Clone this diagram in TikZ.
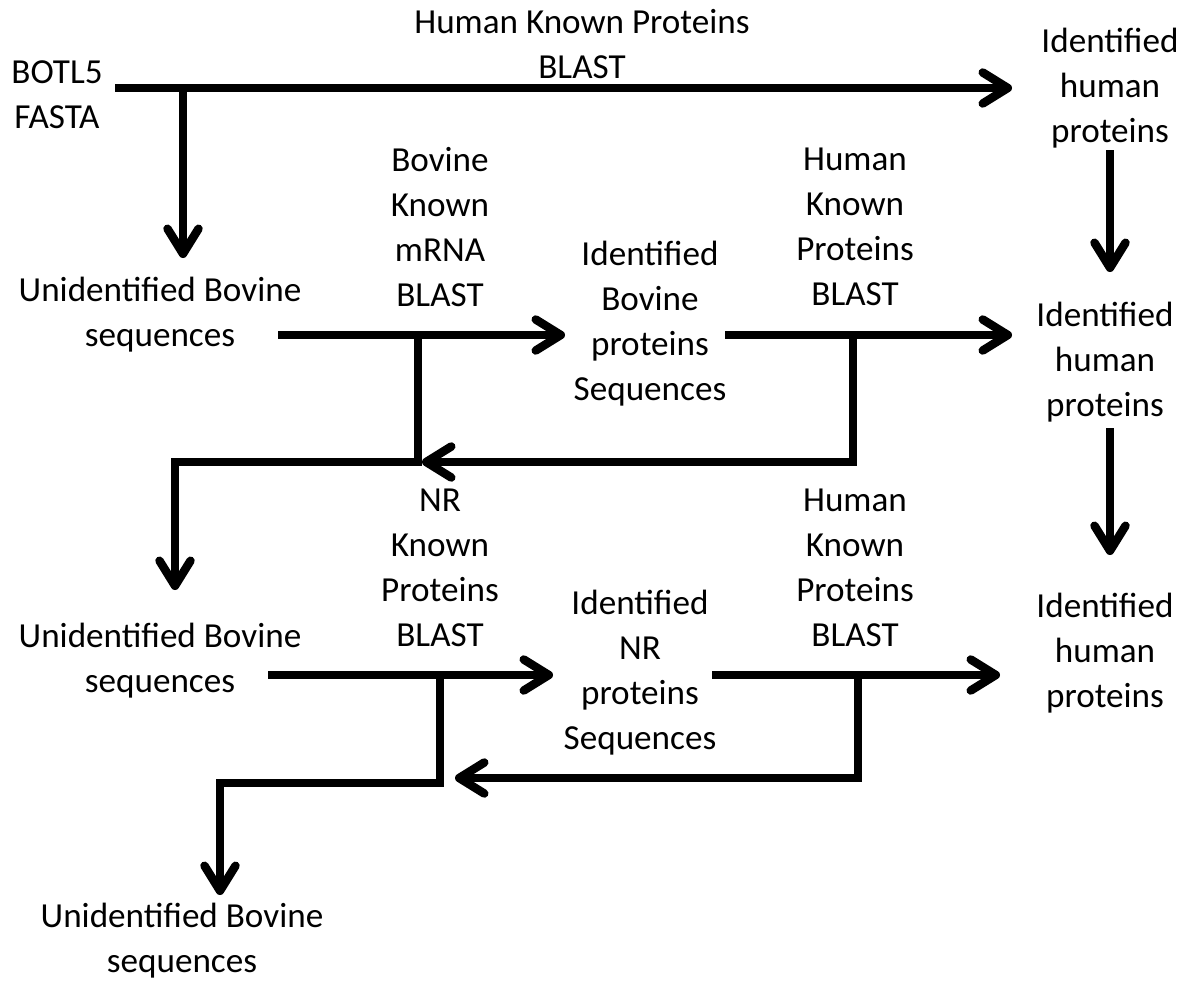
\documentclass[tikz,border=0pt]{standalone}
\usepackage{fontspec}
\setmainfont{Carlito}
\usetikzlibrary{arrows.meta}
\begin{document}
\begin{tikzpicture}[x=0.02cm,y=-0.02cm,
  lbl/.style={align=center,inner sep=0pt,font=\fontsize{20}{25.6}\selectfont},
  conn/.style={line width=0.17cm,line join=miter},
  arr/.style={conn,-{Straight Barb[length=0.5cm,width=0.62cm,round]}}]
\useasboundingbox (0,0) rectangle (1186,981);
% texts
\node[lbl] (botl) at (57,95) {BOTL5\\FASTA};
\node[lbl] (hkp0) at (582,44) {Human Known Proteins\\BLAST};
\node[lbl] (ihp1) at (1110,88) {Identified\\human\\proteins};
\node[lbl] (ubs1) at (160,315) {Unidentified Bovine\\sequences};
\node[lbl] (bkm) at (440,227) {Bovine\\Known\\mRNA\\BLAST};
\node[lbl] (ibp) at (650,324) {Identified\\Bovine\\proteins\\Sequences};
\node[lbl] (hkp1) at (855,227) {Human\\Known\\Proteins\\BLAST};
\node[lbl] (ihp2) at (1105,362) {Identified\\human\\proteins};
\node[lbl] (nrk) at (440,568) {NR\\Known\\Proteins\\BLAST};
\node[lbl] (ubs2) at (160,661) {Unidentified Bovine\\sequences};
\node[lbl] (inr) at (640,673) {Identified\\NR\\proteins\\Sequences};
\node[lbl] (hkp2) at (855,568) {Human\\Known\\Proteins\\BLAST};
\node[lbl] (ihp3) at (1105,653) {Identified\\human\\proteins};
\node[lbl] (ubs3) at (182,941) {Unidentified Bovine\\sequences};
% coordinates
\coordinate (a0) at (115,88);
\coordinate (a1) at (1012,88);
\coordinate (j0) at (183,88);
\coordinate (j0e) at (183,258);
\coordinate (d1s) at (1110,150);
\coordinate (d1e) at (1110,272);
\coordinate (b0) at (278,335);
\coordinate (b1) at (565,335);
\coordinate (c0) at (725,335);
\coordinate (c1) at (1012,335);
\coordinate (d2s) at (1110,428);
\coordinate (d2e) at (1110,555);
\coordinate (k1) at (418,335);
\coordinate (k2) at (418,462);
\coordinate (k3) at (175,462);
\coordinate (k4) at (175,590);
\coordinate (m1) at (853,335);
\coordinate (m2) at (853,462);
\coordinate (m3) at (422,462);
\coordinate (e0) at (268,675);
\coordinate (e1) at (553,675);
\coordinate (f0) at (712,675);
\coordinate (f1) at (1000,675);
\coordinate (n1) at (440,675);
\coordinate (n2) at (440,783);
\coordinate (n3) at (220,783);
\coordinate (n4) at (220,895);
\coordinate (p1) at (858,675);
\coordinate (p2) at (858,778);
\coordinate (p3) at (455,778);
% connectors
\draw[arr] (a0) -- (a1);
\draw[arr] (j0) -- (j0e);
\draw[arr] (d1s) -- (d1e);
\draw[arr] (b0) -- (b1);
\draw[arr] (c0) -- (c1);
\draw[arr] (d2s) -- (d2e);
\draw[arr] (k1) -- (k2) -- (k3) -- (k4);
\draw[arr] (m1) -- (m2) -- (m3);
\draw[arr] (e0) -- (e1);
\draw[arr] (f0) -- (f1);
\draw[arr] (n1) -- (n2) -- (n3) -- (n4);
\draw[arr] (p1) -- (p2) -- (p3);
\end{tikzpicture}
\end{document}
